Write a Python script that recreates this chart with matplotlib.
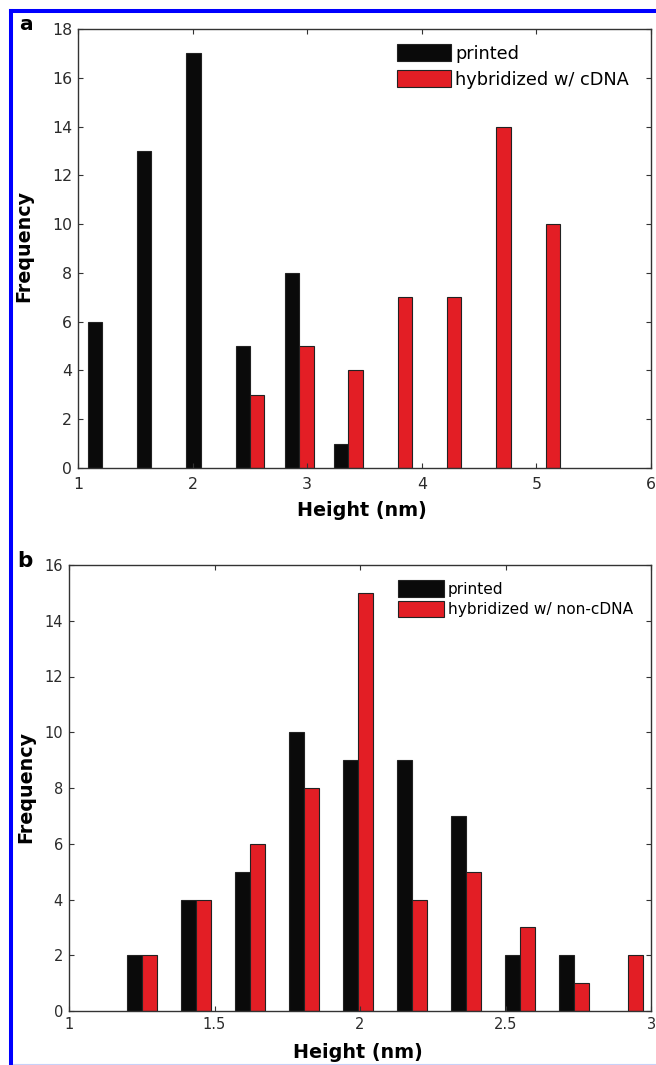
import matplotlib
matplotlib.use("Agg")
import matplotlib.pyplot as plt
from matplotlib.lines import Line2D
from matplotlib.patches import Patch

# ---------------- data ----------------
a_centers = [1.21, 1.64, 2.07, 2.50, 2.93, 3.36, 3.79, 4.22, 4.65, 5.08]
a_printed = [6, 13, 17, 5, 8, 1, 0, 0, 0, 0]
a_cdna = [0, 0, 0, 3, 5, 4, 7, 7, 14, 10]

b_centers = [1.25, 1.436, 1.622, 1.808, 1.994, 2.179, 2.364, 2.55, 2.735, 2.92]
b_printed = [2, 4, 5, 10, 9, 9, 7, 2, 2, 0]
b_noncdna = [2, 4, 6, 8, 15, 4, 5, 3, 1, 2]

a_xticks = [1, 2, 3, 4, 5, 6]
a_yticks = list(range(0, 19, 2))
b_xticks = [1, 1.5, 2, 2.5, 3]
b_xticklabels = ["1", "1.5", "2", "2.5", "3"]
b_yticks = list(range(0, 17, 2))

labels_a = ["printed", "hybridized w/ cDNA"]
labels_b = ["printed", "hybridized w/ non-cDNA"]

BLACK = "#0a0a0a"
RED = "#e31e25"
EDGE = "#222222"
TICKC = "#2b2b2b"

W, H = 656, 1065
fig = plt.figure(figsize=(W / 100, H / 100), dpi=100)


def frac_rect(l, r, t, b):
    return [l / W, 1 - b / H, (r - l) / W, (b - t) / H]


def style_axes(ax, tick_fs, xpad, ypad):
    for s in ax.spines.values():
        s.set_color("#333333")
        s.set_linewidth(1.0)
    ax.tick_params(direction="in", top=True, right=True, length=3.6, width=0.8,
                   color="#333333", labelcolor=TICKC, labelsize=tick_fs)
    ax.tick_params(axis="x", pad=xpad)
    ax.tick_params(axis="y", pad=ypad)


def nonzero(xs, ys):
    pairs = [(x, y) for x, y in zip(xs, ys) if y > 0]
    return [p[0] for p in pairs], [p[1] for p in pairs]


# ---------------- panel a ----------------
axa = fig.add_axes(frac_rect(78, 651, 29, 468))
wa = 0.125
x1, y1 = nonzero(a_centers, a_printed)
x2, y2 = nonzero(a_centers, a_cdna)
axa.bar(x1, y1, width=-wa, align="edge", color=BLACK, edgecolor=EDGE, linewidth=0.8)
axa.bar(x2, y2, width=wa, align="edge", color=RED, edgecolor=EDGE, linewidth=0.8)
axa.set_xlim(1, 6)
axa.set_ylim(0, 18)
axa.set_xticks(a_xticks)
axa.set_yticks(a_yticks)
style_axes(axa, 11.3, 6.3, 4.3)
axa.set_xlabel("Height (nm)", fontsize=13.8, fontweight="bold")
axa.set_ylabel("Frequency", fontsize=13.8, fontweight="bold")
axa.xaxis.set_label_coords(0.496, -0.075)
axa.yaxis.set_label_coords(-0.0785, 0.506)
ha = [Patch(facecolor=BLACK, edgecolor=EDGE, linewidth=0.8),
      Patch(facecolor=RED, edgecolor=EDGE, linewidth=0.8)]
fs_la = 12.8
pxa = fs_la * 100 / 72
axa.legend(ha, labels_a, loc="upper left", bbox_to_anchor=(0.5567, 0.9658),
           frameon=False, fontsize=fs_la, borderpad=0, borderaxespad=0,
           handlelength=54 / pxa, handleheight=20 / pxa,
           handletextpad=4 / pxa, labelspacing=0.4)

# ---------------- panel b ----------------
axb = fig.add_axes(frac_rect(69, 651, 565, 1011))
wb = 0.052
x1, y1 = nonzero(b_centers, b_printed)
x2, y2 = nonzero(b_centers, b_noncdna)
axb.bar(x1, y1, width=-wb, align="edge", color=BLACK, edgecolor=EDGE, linewidth=0.8)
axb.bar(x2, y2, width=wb, align="edge", color=RED, edgecolor=EDGE, linewidth=0.8)
axb.set_xlim(1, 3)
axb.set_ylim(0, 16)
axb.set_xticks(b_xticks)
axb.set_xticklabels(b_xticklabels)
axb.set_yticks(b_yticks)
style_axes(axb, 10.5, 4.3, 4.3)
axb.set_xlabel("Height (nm)", fontsize=13.8, fontweight="bold")
axb.set_ylabel("Frequency", fontsize=13.8, fontweight="bold")
axb.xaxis.set_label_coords(0.497, -0.072)
axb.yaxis.set_label_coords(-0.058, 0.502)
hb = [Patch(facecolor=BLACK, edgecolor=EDGE, linewidth=0.8),
      Patch(facecolor=RED, edgecolor=EDGE, linewidth=0.8)]
fs_lb = 11.1
pxb = fs_lb * 100 / 72
axb.legend(hb, labels_b, loc="upper left", bbox_to_anchor=(0.5653, 0.9664),
           frameon=False, fontsize=fs_lb, borderpad=0, borderaxespad=0,
           handlelength=46 / pxb, handleheight=20 / pxb,
           handletextpad=4 / pxb, labelspacing=0.25)

# ---------------- panel letters ----------------
fig.text(19 / W, 1 - 30 / H, "a", fontsize=14.5, fontweight="bold", va="baseline")
fig.text(17 / W, 1 - 567 / H, "b", fontsize=15.5, fontweight="bold", va="baseline")

# ---------------- blue frame ----------------
fig.add_artist(Line2D([11 / W, 11 / W], [1 - 11 / H, 0], color="#0000ff",
                      linewidth=2.9, transform=fig.transFigure,
                      solid_capstyle="projecting"))
fig.add_artist(Line2D([11 / W, 1], [1 - 11 / H, 1 - 11 / H], color="#0000ff",
                      linewidth=2.9, transform=fig.transFigure,
                      solid_capstyle="projecting"))
fig.add_artist(Line2D([13 / W, 1], [1 - 1064 / H, 1 - 1064 / H], color="#c8d0f8",
                      linewidth=0.8, transform=fig.transFigure))

fig.savefig("out.png", dpi=100)
